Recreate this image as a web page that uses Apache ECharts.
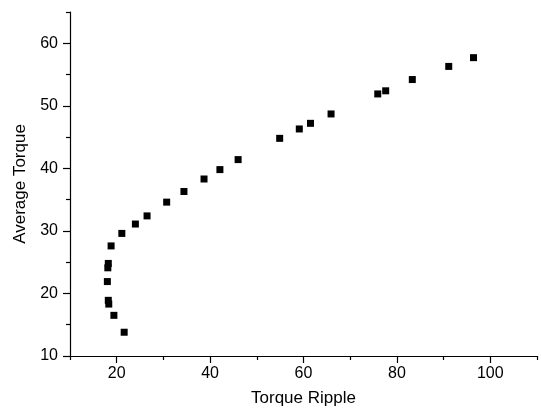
<!DOCTYPE html>
<html>
<head>
<meta charset="utf-8">
<script src="https://cdn.jsdelivr.net/npm/echarts@6/dist/echarts.min.js"></script>
<style>html,body{margin:0;padding:0;background:#fff}#c{width:541px;height:414px}</style>
</head>
<body>
<div id="c"></div>
<script>
const torqueRipple = [21.6,19.4,18.3,18.2,18.0,18.1,18.2,18.8,21.1,24.0,26.5,30.7,34.4,38.7,42.1,46.0,54.9,59.1,61.5,65.9,75.9,77.6,83.3,91.1,96.4];
const averageTorque = [13.8,16.5,18.3,18.9,21.9,24.1,24.8,27.6,29.6,31.1,32.4,34.6,36.3,38.3,39.8,41.4,44.8,46.3,47.2,48.7,51.9,52.4,54.2,56.3,57.7];
const xMajorTicks = [20,40,60,80,100];
const xMinorTicks = [10,30,50,70,90,110];
const yMajorTicks = [10,20,30,40,50,60];
const yMinorTicks = [15,25,35,45,55,65];

const FONT = 'Liberation Sans, Arial, sans-serif';
const chart = echarts.init(document.getElementById('c'));
const points = torqueRipple.map((x,i)=>[x, averageTorque[i]]);
const axisLineStyle = {show:true, lineStyle:{color:'#000', width:1.2}};
chart.setOption({
  animation:false,
  grid:{left:70, right:4, top:12, bottom:58},
  xAxis:[{
    type:'value', min:10, max:110, interval:10,
    name:'Torque Ripple', nameLocation:'middle', nameGap:34,
    nameTextStyle:{fontFamily:FONT, fontSize:17, color:'#000'},
    axisLine:axisLineStyle,
    axisTick:{show:true, inside:false, length:7, customValues:xMajorTicks, lineStyle:{color:'#000', width:1.2}},
    axisLabel:{customValues:xMajorTicks, fontFamily:FONT, fontSize:16, color:'#000', margin:10},
    splitLine:{show:false}
  },{
    type:'value', min:10, max:110, interval:10, position:'bottom',
    axisLine:{show:false},
    axisTick:{show:true, length:4, customValues:xMinorTicks, lineStyle:{color:'#000', width:1.2}},
    axisLabel:{show:false}, splitLine:{show:false}
  }],
  yAxis:[{
    type:'value', min:10, max:65, interval:10,
    name:'Average Torque', nameLocation:'middle', nameGap:40, nameRotate:90,
    nameTextStyle:{fontFamily:FONT, fontSize:17, color:'#000'},
    axisLine:axisLineStyle,
    axisTick:{show:true, length:7, customValues:yMajorTicks, lineStyle:{color:'#000', width:1.2}},
    axisLabel:{customValues:yMajorTicks, fontFamily:FONT, fontSize:16, color:'#000', margin:12},
    splitLine:{show:false}
  },{
    type:'value', min:10, max:65, interval:5, position:'left',
    axisLine:{show:false},
    axisTick:{show:true, length:4, customValues:yMinorTicks, lineStyle:{color:'#000', width:1.2}},
    axisLabel:{show:false}, splitLine:{show:false}
  }],
  series:[{
    type:'scatter', xAxisIndex:0, yAxisIndex:0,
    symbol:'rect', symbolSize:7,
    itemStyle:{color:'#000', opacity:1},
    data:points
  }]
});
</script>
</body>
</html>
